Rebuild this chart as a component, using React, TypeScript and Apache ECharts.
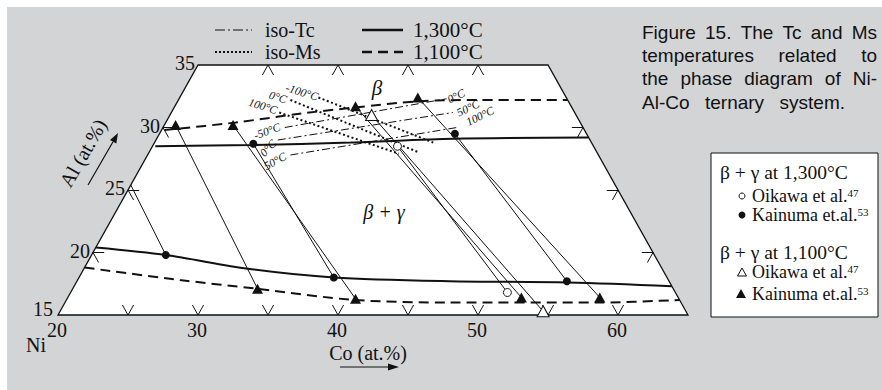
import React, { useEffect, useRef } from "react";
import * as echarts from "echarts";

// ---- data: compositions as [Co at.%, Al at.%] ----
const corners = [[20, 15], [65, 15], [45, 35], [20, 35]];

const boundary1300Beta = [[20.2, 28.5], [27.1, 28.6], [34.0, 28.8], [41.2, 29.1], [50.8, 29.2]];
const boundary1300Gamma = [[20.0, 20.4], [25.3, 19.8], [31.7, 18.7], [38.2, 18.0], [46.6, 17.7], [55.1, 17.6], [62.7, 17.3]];
const boundary1100Beta = [[20.2, 29.8], [25.0, 30.4], [29.2, 31.1], [32.9, 31.6], [37.3, 32.1], [41.5, 32.2], [47.8, 32.2]];
const boundary1100Gamma = [[20.0, 18.8], [27.3, 17.8], [33.2, 17.1], [40.6, 16.2], [47.5, 16.0], [58.2, 16.0], [63.8, 16.2]];

const isoMsMinus100 = [[29.9, 32.4], [39.9, 28.8]];
const isoMs0 = [[28.0, 32.2], [39.3, 28.0]];
const isoMs100 = [[27.7, 31.2], [37.9, 27.9]];
const isoTcA = [[28.7, 30.0], [39.1, 32.3]];
const isoTcB = [[28.7, 29.0], [40.1, 31.2]];
const isoTcC = [[30.2, 27.8], [41.0, 30.0]];

const oikawa1300 = [[37.5, 28.5], [51.2, 16.8]];
const kainuma1300 = [[27.1, 28.7], [41.1, 29.5], [25.3, 19.8], [38.2, 18.0], [55.0, 17.7]];
const oikawa1100 = [[34.4, 31.0], [54.5, 15.3]];
const kainuma1100 = [[20.8, 30.2], [24.9, 30.2], [32.9, 31.7], [37.0, 32.4], [33.2, 17.1], [40.6, 16.3], [52.4, 16.4], [58.0, 16.4]];

const tieLines = [
  [[20.0, 25.4], [25.3, 19.8]],
  [[20.8, 30.2], [33.2, 17.1]],
  [[24.9, 30.2], [40.6, 16.3]],
  [[27.1, 28.7], [38.2, 18.0]],
  [[32.9, 31.7], [52.4, 16.4]],
  [[34.4, 31.0], [54.5, 15.3]],
  [[37.5, 28.5], [51.2, 16.8]],
  [[37.0, 32.4], [58.0, 16.4]],
  [[41.1, 29.5], [55.0, 17.7]],
];

const bottomTickCo = [25, 30, 35, 40, 45, 50, 55, 60];
const topTickCo = [25, 30, 35, 40];
const leftTickAl = [20, 25, 30];
const rightTickAl = [20, 25, 30];
const coTickLabels = [20, 30, 40, 50, 60];
const alTickLabels = [15, 20, 25, 30, 35];

const captionLines = ["Figure 15. The Tc and Ms", "temperatures related to", "the phase diagram of Ni-", "Al-Co ternary system."];

const SERIF = "'Liberation Serif', 'Times New Roman', serif";
const SANS = "'Liberation Sans', Arial, sans-serif";
const INK = "#111111";

// ternary (Co, Al) -> cartesian (u, Al)
const toXY = (p: number[]) => [p[0] + 0.5 * (p[1] - 15), p[1]];

const TL = 0.8;
function tickSegments() {
  const segs: number[][][] = [];
  bottomTickCo.forEach((c) => {
    segs.push([[c, 15], [c, 15 + TL]]);
    segs.push([[c, 15], [c - TL, 15 + TL]]);
  });
  topTickCo.forEach((c) => {
    segs.push([[c, 35], [c, 35 - TL]]);
    segs.push([[c, 35], [c + TL, 35 - TL]]);
  });
  leftTickAl.forEach((a) => {
    segs.push([[20, a], [20 + TL, a]]);
    segs.push([[20, a], [20 + TL, a - TL]]);
  });
  rightTickAl.forEach((a) => {
    segs.push([[80 - a, a], [80 - a - TL, a]]);
    segs.push([[80 - a, a], [80 - a, a - TL]]);
  });
  return segs;
}

function txt(text: string, x: number, y: number, o: any = {}) {
  const align = o.align || "left";
  return {
    type: "text",
    x,
    y,
    rotation: o.rot || 0,
    z: 50,
    silent: true,
    style: {
      text,
      fontFamily: o.ff || SERIF,
      fontSize: o.fs || 20,
      fontStyle: o.fst || "normal",
      fill: INK,
      align,
      textAlign: align,
      verticalAlign: "middle",
      textVerticalAlign: "middle",
      rich: o.rich,
    },
  };
}

function lineSeries(data: number[][], type: any, width: number, smooth: number | boolean = 0.3) {
  return {
    type: "line",
    data: data.map(toXY),
    symbol: "none",
    smooth,
    silent: true,
    z: 4,
    lineStyle: { color: INK, width, type },
  };
}

export default function App() {
  const ref = useRef<HTMLDivElement>(null);
  useEffect(() => {
    const chart = echarts.init(ref.current!, null, { renderer: "svg" });
    const option: any = {
      animation: false,
      backgroundColor: "#ffffff",
      grid: { left: 58, top: 65, right: 194, bottom: 75 },
      xAxis: { type: "value", min: 20, max: 65, show: false },
      yAxis: { type: "value", min: 15, max: 35, show: false },
      series: [
        {
          type: "custom",
          data: [[20, 15]],
          silent: true,
          z: 1,
          renderItem: (_p: any, api: any) => ({
            type: "polygon",
            shape: { points: corners.map((c) => api.coord(toXY(c))) },
            style: { fill: "#ffffff", stroke: INK, lineWidth: 1.3 },
          }),
        },
        {
          type: "lines",
          coordinateSystem: "cartesian2d",
          silent: true,
          z: 3,
          data: tickSegments().map((s) => ({ coords: s.map(toXY) })),
          lineStyle: { color: INK, width: 1, opacity: 1, curveness: 0 },
        },
        {
          type: "lines",
          coordinateSystem: "cartesian2d",
          silent: true,
          z: 3,
          data: tieLines.map((s) => ({ coords: s.map(toXY) })),
          lineStyle: { color: INK, width: 1, opacity: 1, curveness: 0 },
        },
        lineSeries(boundary1300Beta, "solid", 2),
        lineSeries(boundary1300Gamma, "solid", 2),
        lineSeries(boundary1100Beta, [10, 6], 2),
        lineSeries(boundary1100Gamma, [10, 6], 2),
        lineSeries(isoMsMinus100, [2, 2.5], 2, false),
        lineSeries(isoMs0, [2, 2.5], 2, false),
        lineSeries(isoMs100, [2, 2.5], 2, false),
        lineSeries(isoTcA, [8, 3, 2, 3], 1, false),
        lineSeries(isoTcB, [8, 3, 2, 3], 1, false),
        lineSeries(isoTcC, [8, 3, 2, 3], 1, false),
        {
          type: "scatter", name: "oikawa1300", data: oikawa1300.map(toXY), symbol: "circle", symbolSize: 8, z: 10, silent: true,
          itemStyle: { color: "#ffffff", borderColor: INK, borderWidth: 1, opacity: 1 },
        },
        {
          type: "scatter", name: "kainuma1300", data: kainuma1300.map(toXY), symbol: "circle", symbolSize: 8, z: 10, silent: true,
          itemStyle: { color: INK, opacity: 1 },
        },
        {
          type: "scatter", name: "oikawa1100", data: oikawa1100.map(toXY), symbol: "triangle", symbolSize: [12, 11], z: 10, silent: true,
          itemStyle: { color: "#ffffff", borderColor: INK, borderWidth: 1, opacity: 1 },
        },
        {
          type: "scatter", name: "kainuma1100", data: kainuma1100.map(toXY), symbol: "triangle", symbolSize: [11, 10], z: 10, silent: true,
          itemStyle: { color: INK, opacity: 1 },
        },
      ],
    };
    chart.setOption(option);

    const px = (p: number[]) => chart.convertToPixel({ gridIndex: 0 }, toXY(p)) as number[];

    const g: any[] = [];
    g.push({ type: "rect", z: -10, silent: true, shape: { x: 7, y: 7, width: 875, height: 383 }, style: { fill: "#d3d4d6" } });

    // axis tick labels
    coTickLabels.forEach((c) => {
      const [x, y] = px([c, 15]);
      g.push(txt(String(c), x - 1, y + 15, { align: "center" }));
    });
    alTickLabels.forEach((a) => {
      const [x, y] = px([20, a]);
      const dy = a === 15 ? -6 : -2;
      const dx = a === 15 ? -5 : -3;
      g.push(txt(String(a), x + dx, y + dy, { align: "right" }));
    });

    // axis titles
    g.push(txt("Ni", 36, 345, { align: "center" }));
    g.push(txt("Co (at.%)", 368, 353, { align: "center" }));
    g.push({ type: "line", z: 50, silent: true, shape: { x1: 340, y1: 367, x2: 392, y2: 367 }, style: { stroke: INK, lineWidth: 1.2 } });
    g.push({ type: "polygon", z: 50, silent: true, shape: { points: [[399, 367], [388, 363.5], [388, 370.5]] }, style: { fill: INK } });
    g.push(txt("Al (at.%)", 83, 153, { align: "center", rot: Math.PI / 3 }));
    g.push({ type: "line", z: 50, silent: true, shape: { x1: 88, y1: 185, x2: 113, y2: 141.7 }, style: { stroke: INK, lineWidth: 1.2 } });
    g.push({ type: "polygon", z: 50, silent: true, shape: { points: [[118, 133], [116.3, 143.6], [110, 140]] }, style: { fill: INK } });

    // phase labels
    g.push(txt("β", 377, 88, { align: "center", fst: "italic", fs: 21 }));
    g.push(txt("β + γ", 384, 212, { align: "center", fst: "italic", fs: 20 }));

    // iso labels
    const iso = (t: string, x: number, y: number, rot: number) => txt(t, x, y, { align: "center", fst: "italic", fs: 11.5, rot });
    g.push(iso("-100°C", 302, 92, -0.3));
    g.push(iso("0°C", 278, 97, -0.3));
    g.push(iso("100°C", 263, 106, -0.3));
    g.push(iso("-50°C", 267, 131, 0.35));
    g.push(iso("0°C", 268, 148, 0.8));
    g.push(iso("50°C", 275, 161, 0.5));
    g.push(iso("0°C", 456, 96, 0.45));
    g.push(iso("50°C", 468, 108, 0.45));
    g.push(iso("100°C", 480, 116, 0.45));

    // top legend
    g.push({ type: "line", z: 50, silent: true, shape: { x1: 215, y1: 30, x2: 252, y2: 30 }, style: { stroke: INK, lineWidth: 1.2, lineDash: [10, 3, 2, 3] } });
    g.push({ type: "line", z: 50, silent: true, shape: { x1: 215, y1: 52, x2: 252, y2: 52 }, style: { stroke: INK, lineWidth: 2, lineDash: [2, 2] } });
    g.push({ type: "line", z: 50, silent: true, shape: { x1: 362, y1: 30, x2: 403, y2: 30 }, style: { stroke: INK, lineWidth: 2.5 } });
    g.push({ type: "line", z: 50, silent: true, shape: { x1: 362, y1: 52, x2: 403, y2: 52 }, style: { stroke: INK, lineWidth: 2.5, lineDash: [10, 6] } });
    g.push(txt("iso-Tc", 265, 30));
    g.push(txt("iso-Ms", 265, 52));
    g.push(txt("1,300°C", 413, 30, { fs: 21 }));
    g.push(txt("1,100°C", 413, 52, { fs: 21 }));

    // legend box
    g.push({ type: "rect", z: 40, silent: true, shape: { x: 711, y: 153, width: 167, height: 164 }, style: { fill: "#ffffff", stroke: INK, lineWidth: 1 } });
    const rich = { a: { fontSize: 18, fontFamily: SERIF, fill: INK, color: INK }, s: { fontSize: 11, fontFamily: SERIF, fill: INK, color: INK, verticalAlign: "top" } };
    g.push(txt("β + γ at 1,300°C", 720, 172, { fs: 19.5 }));
    g.push({ type: "circle", z: 50, silent: true, shape: { cx: 742, cy: 196, r: 3 }, style: { fill: "#ffffff", stroke: INK, lineWidth: 1 } });
    g.push(txt("{a|Oikawa et al.}{s|47}", 752, 196, { rich }));
    g.push({ type: "circle", z: 50, silent: true, shape: { cx: 742, cy: 215, r: 3.5 }, style: { fill: INK } });
    g.push(txt("{a|Kainuma et.al.}{s|53}", 752, 215, { rich }));
    g.push(txt("β + γ at 1,100°C", 720, 252, { fs: 19.5 }));
    g.push({ type: "polygon", z: 50, silent: true, shape: { points: [[742, 268], [746.5, 276], [737.5, 276]] }, style: { fill: "#ffffff", stroke: INK, lineWidth: 1 } });
    g.push(txt("{a|Oikawa et al.}{s|47}", 752, 272, { rich }));
    g.push({ type: "polygon", z: 50, silent: true, shape: { points: [[741, 289], [746, 298], [736, 298]] }, style: { fill: INK } });
    g.push(txt("{a|Kainuma et.al.}{s|53}", 752, 294, { rich }));

    // caption (justified)
    const fs = 19;
    const ctx = document.createElement("canvas").getContext("2d")!;
    ctx.font = `${fs}px ${SANS}`;
    const capLeft = 642;
    const capRights = [877, 877, 877, 845];
    const capY = [32, 55, 78.5, 102];
    captionLines.forEach((line, i) => {
      const words = line.split(" ");
      const widths = words.map((w) => ctx.measureText(w).width);
      const total = widths.reduce((a, b) => a + b, 0);
      const gap = (capRights[i] - capLeft - total) / (words.length - 1);
      let x = capLeft;
      words.forEach((w, k) => {
        g.push(txt(w, x, capY[i], { ff: SANS, fs }));
        x += widths[k] + gap;
      });
    });

    chart.setOption({ graphic: { elements: g } });
    return () => chart.dispose();
  }, []);
  return <div ref={ref} style={{ position: "fixed", left: 0, top: 0, width: 882, height: 390 }} />;
}
